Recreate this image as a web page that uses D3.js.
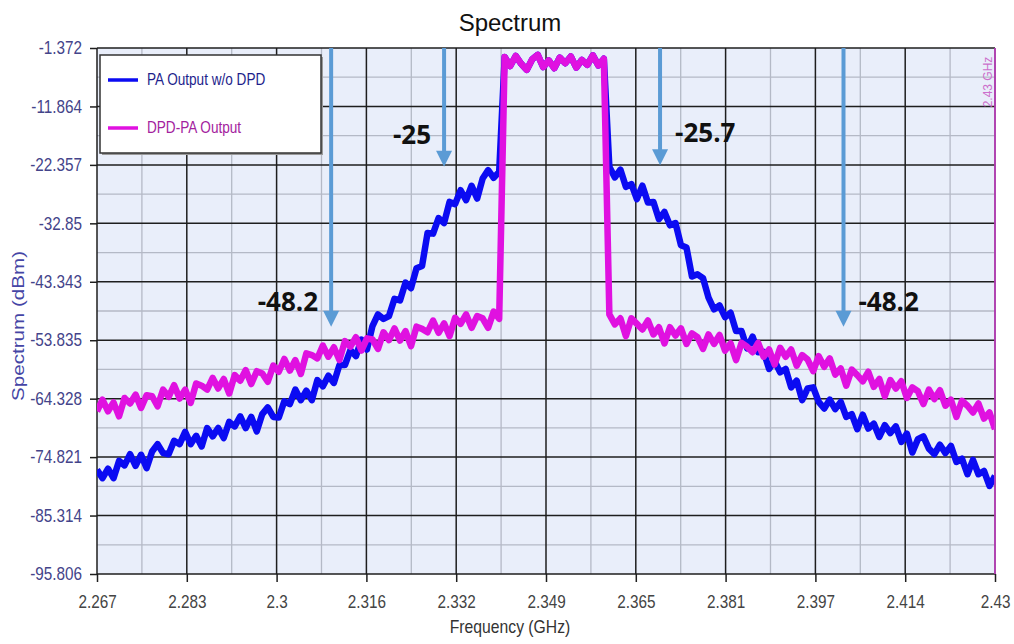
<!DOCTYPE html>
<html>
<head>
<meta charset="utf-8">
<script src="https://cdn.jsdelivr.net/npm/d3@7"></script>
<style>
  body { margin: 0; background: #fff; }
  svg { display: block; font-family: "Liberation Sans", Arial, sans-serif; }
</style>
</head>
<body>
<svg id="chart" width="1014" height="644"></svg>
<script>
// sweep 2.267 .. 2.43 GHz, one reading per MHz (dBm)
var freqStart = 2.267, freqEnd = 2.43, freqStep = 0.001;

var paNoDpd = [
  -77.1, -78.6, -76.9, -78.6, -75.5, -76.3, -74.3, -76.4, -74.4, -76.8,
  -73.8, -72.5, -74.1, -74.3, -71.9, -72.5, -70.3, -72.5, -71.0, -72.9,
  -69.6, -71.1, -69.6, -71.4, -68.5, -69.3, -67.5, -69.6, -67.6, -70.2,
  -67.1, -65.9, -67.6, -67.7, -64.8, -65.3, -62.7, -64.6, -62.9, -64.6,
  -61.0, -62.1, -60.2, -61.5, -58.3, -58.3, -55.6, -56.7, -53.7, -55.5,
  -51.3, -49.2, -50.0, -49.5, -46.4, -46.7, -43.5, -44.5, -40.9, -40.5,
  -34.6, -34.7, -31.9, -32.8, -29.0, -29.4, -26.9, -28.7, -26.1, -28.4,
  -24.8, -23.3, -24.7, -23.6,
  -3.0, -4.6, -2.8, -4.2, -5.3, -3.4, -2.6, -4.8, -3.6, -5.0,
  -3.1, -4.1, -2.9, -4.9, -3.5, -4.4, -2.7, -4.5, -3.3,
  -22.7, -24.6, -23.2, -26.3, -25.8, -28.5, -26.1,
  -29.1, -29.0, -32.1, -30.8, -33.2, -32.8, -36.8, -37.2, -42.4, -42.0,
  -42.7, -46.2, -48.3, -47.6, -49.7, -48.9, -52.2, -52.2, -55.3, -53.2,
  -56.0, -55.9, -59.0, -57.6, -59.6, -59.0, -62.3, -61.1, -64.6, -62.5,
  -62.3, -64.9, -66.1, -64.5, -66.2, -64.9, -67.6, -67.1, -69.8, -67.2,
  -69.7, -68.8, -71.2, -69.1, -70.5, -69.3, -72.1, -70.6, -74.0, -71.6,
  -71.1, -73.3, -74.3, -72.6, -74.1, -72.8, -75.7, -75.1, -77.9, -75.3,
  -77.9, -77.3, -80.0, -78.2
];

var dpdPa = [
  -66.6, -64.5, -66.6, -65.0, -67.5, -64.2, -65.2, -63.6, -66.0, -63.7,
  -63.9, -65.7, -62.7, -64.0, -61.9, -64.3, -62.7, -65.1, -61.6, -62.0,
  -62.7, -60.6, -62.5, -60.8, -63.4, -60.1, -61.1, -59.2, -61.7, -59.4,
  -59.8, -61.3, -58.4, -59.5, -57.2, -59.3, -57.4, -59.9, -56.2, -56.5,
  -57.1, -54.8, -56.8, -55.1, -57.4, -54.0, -55.0, -53.3, -55.7, -53.5,
  -53.7, -55.4, -52.4, -53.8, -51.7, -53.9, -52.2, -54.9, -51.4, -51.8,
  -52.4, -50.3, -52.5, -50.8, -53.1, -49.8, -50.9, -49.2, -51.6, -49.5,
  -49.9, -51.6, -48.7, -50.0,
  -3.0, -4.6, -2.8, -4.2, -5.3, -3.4, -2.6, -4.8, -3.6, -5.0,
  -3.1, -4.1, -2.9, -4.9, -3.5, -4.4, -2.7, -4.5, -3.3,
  -49.2, -51.0, -49.9, -53.1, -49.9, -50.9, -51.9,
  -50.3, -52.8, -51.5, -54.4, -51.5, -53.0, -51.7, -54.5, -52.6, -53.3,
  -55.4, -52.8, -54.5, -52.9, -55.7, -54.4, -57.4, -54.3, -55.0, -56.0,
  -54.3, -56.8, -55.5, -58.2, -55.2, -56.8, -55.5, -58.4, -56.5, -57.3,
  -59.4, -56.7, -58.6, -57.1, -60.0, -58.9, -62.0, -59.1, -60.1, -61.2,
  -59.5, -62.2, -60.8, -63.9, -61.0, -62.5, -61.2, -64.2, -62.3, -63.0,
  -65.3, -62.7, -64.4, -62.8, -65.6, -64.5, -67.6, -64.7, -65.6, -66.8,
  -65.2, -67.9, -66.8, -69.8
];

var seriesNames = ["PA Output w/o DPD", "DPD-PA Output"];
var xTickLabels = ["2.267", "2.283", "2.3", "2.316", "2.332", "2.349", "2.365", "2.381", "2.397", "2.414", "2.43"];
var yTickLabels = ["-1.372", "-11.864", "-22.357", "-32.85", "-43.343", "-53.835", "-64.328", "-74.821", "-85.314", "-95.806"];
var yMax = -1.372, yMin = -95.806;

// ACLR annotations: arrow frequency, arrow tip level, label
var arrowFreq = [2.3095, 2.3300, 2.3692, 2.4025];
var arrowTip = [-51.4, -22.7, -22.4, -51.4];
var arrowText = ["-48.2", "-25", "-25.7", "-48.2"];
var markerText = "2.43 GHz";

var margin = { top: 48, right: 19, bottom: 70, left: 97 },
    width = 1014 - margin.left - margin.right,
    height = 644 - margin.top - margin.bottom;

var svg = d3.select("#chart");
var g = svg.append("g").attr("transform", "translate(" + margin.left + "," + margin.top + ")");

var x = d3.scaleLinear().domain([freqStart, freqEnd]).range([0, width]);
var y = d3.scaleLinear().domain([yMin, yMax]).range([height, 0]);

// evenly spaced major ticks, minor lines halfway between
var xMajor = xTickLabels.map(function (d, i) { return freqStart + i * (freqEnd - freqStart) / (xTickLabels.length - 1); });
var yMajor = yTickLabels.map(function (d, i) { return yMax - i * (yMax - yMin) / (yTickLabels.length - 1); });
var xMinor = d3.pairs(xMajor).map(function (p) { return (p[0] + p[1]) / 2; });
var yMinor = d3.pairs(yMajor).map(function (p) { return (p[0] + p[1]) / 2; });

g.append("rect").attr("width", width).attr("height", height).attr("fill", "#e9eefa");

g.selectAll(".vminor").data(xMinor).enter().append("line")
  .attr("x1", x).attr("x2", x).attr("y1", 0).attr("y2", height)
  .attr("stroke", "#b4b9c6").attr("stroke-width", 1.3);
g.selectAll(".hminor").data(yMinor).enter().append("line")
  .attr("y1", y).attr("y2", y).attr("x1", 0).attr("x2", width)
  .attr("stroke", "#b4b9c6").attr("stroke-width", 1.3);
g.selectAll(".vmajor").data(xMajor).enter().append("line")
  .attr("x1", x).attr("x2", x).attr("y1", 0).attr("y2", height)
  .attr("stroke", "#1e1e1e").attr("stroke-width", 1.5);
g.selectAll(".hmajor").data(yMajor).enter().append("line")
  .attr("y1", y).attr("y2", y).attr("x1", 0).attr("x2", width)
  .attr("stroke", "#1e1e1e").attr("stroke-width", 1.5);

// axes
var xAxis = g.append("g").attr("transform", "translate(0," + height + ")")
  .call(d3.axisBottom(x).tickValues(xMajor).tickFormat(function (d, i) { return xTickLabels[i]; }).tickSize(8));
xAxis.select(".domain").remove();
xAxis.selectAll("line").attr("stroke", "#1e1e1e").attr("stroke-width", 1.5);
xAxis.selectAll("text").attr("y", 0).attr("dy", "0.71em")
  .attr("transform", "translate(0,21) scale(0.85,1)")
  .attr("font-size", 18).attr("fill", "#444");

var yAxis = g.append("g")
  .call(d3.axisLeft(y).tickValues(yMajor).tickFormat(function (d, i) { return yTickLabels[i]; }).tickSize(7));
yAxis.select(".domain").remove();
yAxis.selectAll("line").attr("stroke", "#1e1e1e").attr("stroke-width", 1.5);
yAxis.selectAll("text").attr("x", 0)
  .attr("transform", "translate(-15,0) scale(0.85,1)")
  .attr("font-size", 18).attr("fill", "#44448a");

// traces
g.append("clipPath").attr("id", "plotclip").append("rect").attr("width", width).attr("height", height);

var line = d3.line()
  .x(function (d, i) { return x(freqStart + i * freqStep); })
  .y(function (d) { return y(d); });

var traces = g.append("g").attr("clip-path", "url(#plotclip)");
traces.append("path").datum(paNoDpd).attr("d", line)
  .attr("fill", "none").attr("stroke", "#0b0bf2").attr("stroke-width", 6.5).attr("stroke-linejoin", "round");
traces.append("path").datum(dpdPa).attr("d", line)
  .attr("fill", "none").attr("stroke", "#e011e0").attr("stroke-width", 6.5).attr("stroke-linejoin", "round");

// marker at the right edge
g.append("line").attr("x1", x(freqEnd)).attr("x2", x(freqEnd)).attr("y1", 0).attr("y2", height)
  .attr("stroke", "#d040d0").attr("stroke-width", 1.5);
g.append("text").attr("transform", "translate(" + (x(freqEnd) - 3) + ",34) rotate(-90)")
  .attr("text-anchor", "middle").attr("font-size", 12).attr("fill", "#cc70cc").text(markerText);

// annotation arrows
var arrows = g.append("g");
arrowFreq.forEach(function (f, i) {
  var ax = x(f), ay = y(arrowTip[i]);
  arrows.append("line").attr("x1", ax).attr("x2", ax).attr("y1", 0).attr("y2", ay - 12)
    .attr("stroke", "#5b9bd5").attr("stroke-width", 4);
  arrows.append("path")
    .attr("d", "M" + (ax - 8) + "," + (ay - 16) + "L" + (ax + 8) + "," + (ay - 16) + "L" + ax + "," + ay + "Z")
    .attr("fill", "#5b9bd5");
  var left = i < 2;
  var lift = arrowTip[i] > -35 ? 23 : 16;
  arrows.append("text")
    .attr("x", left ? ax - 13 : ax + 15).attr("y", ay - lift)
    .attr("text-anchor", left ? "end" : "start")
    .attr("font-family", "'Open Sans', sans-serif").attr("font-weight", "bold")
    .attr("font-size", 26).attr("fill", "#111").text(arrowText[i]);
});

// legend
var legend = svg.append("g").attr("transform", "translate(100,55)");
legend.append("rect").attr("x", 2).attr("y", 2).attr("width", 221).attr("height", 98).attr("fill", "#9a9a9a");
legend.append("rect").attr("width", 221).attr("height", 98).attr("fill", "#fff").attr("stroke", "#333").attr("stroke-width", 1.5);
var legendColors = ["#0b0bf2", "#e011e0"], legendText = ["#1e1e8c", "#a3229e"];
seriesNames.forEach(function (name, i) {
  var ly = 25 + i * 48;
  legend.append("line").attr("x1", 8).attr("x2", 38).attr("y1", ly).attr("y2", ly)
    .attr("stroke", legendColors[i]).attr("stroke-width", 3.5);
  legend.append("text").attr("transform", "translate(47," + (ly + 5) + ") scale(0.85,1)")
    .attr("font-size", 16).attr("fill", legendText[i]).text(name);
});

// titles (centred on the page, not the plot)
var titleX = 510;
svg.append("text").attr("x", titleX).attr("y", 31)
  .attr("text-anchor", "middle").attr("font-size", 24).attr("fill", "#111").text("Spectrum");
svg.append("text").attr("transform", "translate(" + titleX + ",633) scale(0.85,1)")
  .attr("text-anchor", "middle").attr("font-size", 18.5).attr("fill", "#333").text("Frequency (GHz)");
svg.append("text").attr("transform", "translate(24,326) rotate(-90)")
  .attr("text-anchor", "middle").attr("font-size", 17).attr("fill", "#4545a5")
  .attr("textLength", 150).attr("lengthAdjust", "spacingAndGlyphs").text("Spectrum (dBm)");
</script>
</body>
</html>
